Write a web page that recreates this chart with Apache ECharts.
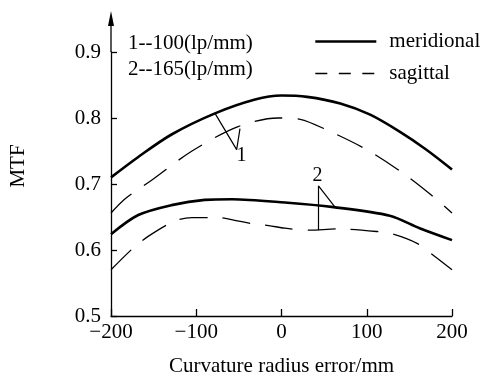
<!DOCTYPE html>
<html>
<head>
<meta charset="utf-8">
<script src="https://cdn.jsdelivr.net/npm/echarts@6/dist/echarts.min.js"></script>
<style>
html,body{margin:0;padding:0;background:#fff;}
#c{width:494px;height:377px;}
</style>
</head>
<body>
<div id="c"></div>
<script>
// ---- data ----
const xTicks = [-200, -100, 0, 100, 200];
const yTicks = [0.5, 0.6, 0.7, 0.8, 0.9];

const merid1X = [-200, -168, -129, -78, -31, 0, 30, 69, 104, 139, 170, 200];
const merid1Y = [0.710, 0.741, 0.775, 0.807, 0.828, 0.834, 0.832, 0.822, 0.805, 0.779, 0.752, 0.722];

const sagit1X = [-200, -183, -152, -105, -51, -4, 22, 53, 100, 143, 176, 200];
const sagit1Y = [0.656, 0.678, 0.706, 0.750, 0.787, 0.800, 0.798, 0.782, 0.752, 0.716, 0.683, 0.656];

const merid2X = [-200, -168, -129, -90, -58, 4, 61, 127, 162, 200];
const merid2Y = [0.624, 0.653, 0.668, 0.676, 0.677, 0.672, 0.665, 0.652, 0.633, 0.615];

const sagit2X = [-200, -174, -156, -125, -105, -74, -55, -35, -15, 4, 33, 65, 112, 131, 159, 178, 200];
const sagit2Y = [0.570, 0.603, 0.621, 0.644, 0.649, 0.649, 0.645, 0.640, 0.637, 0.633, 0.630, 0.632, 0.628, 0.624, 0.610, 0.592, 0.570];

// leader lines for curve labels (data coordinates)
const leader1X = [-78, -52.6, -48.7];
const leader1Y = [0.807, 0.752, 0.784];
const leader2X = [62.8, 43.4, 43.4];
const leader2Y = [0.665, 0.697, 0.630];

const curveLabels = [
  { text: '1', x: -47, y: 0.743 },
  { text: '2', x: 42.2, y: 0.713 }
];
const noteLines = ['1--100(lp/mm)', '2--165(lp/mm)'];
const legendNames = ['meridional', 'sagittal'];

// ---- helpers ----
const zip = (xs, ys) => xs.map((x, i) => [x, ys[i]]);
const FONT = '"Liberation Serif", "Times New Roman", serif';

const chart = echarts.init(document.getElementById('c'), null, { renderer: 'canvas' });

function curve(name, xs, ys, solid) {
  return {
    name: name,
    type: 'line',
    data: zip(xs, ys),
    smooth: 0.3,
    symbol: 'none',
    silent: true,
    lineStyle: solid
      ? { color: '#000', width: 2.6, type: 'solid' }
      : { color: '#000', width: 1.3, type: [28, 15] },
    itemStyle: { color: '#000' },
    z: 3
  };
}
function leader(xs, ys) {
  return {
    type: 'line',
    data: zip(xs, ys),
    symbol: 'none',
    silent: true,
    lineStyle: { color: '#000', width: 1.2 },
    z: 4
  };
}

const option = {
  animation: false,
  backgroundColor: '#fff',
  textStyle: { fontFamily: FONT, color: '#000' },
  grid: { left: 111, right: 42, top: 52, bottom: 61, containLabel: false, outerBoundsMode: 'none' },
  xAxis: {
    type: 'value',
    min: -200, max: 200, interval: 100,
    name: 'Curvature radius error/mm',
    nameLocation: 'middle',
    nameGap: 40,
    nameTextStyle: { fontFamily: FONT, fontSize: 21, color: '#000' },
    axisLine: { onZero: false, lineStyle: { color: '#000', width: 1.3 } },
    axisTick: { inside: true, length: 7, lineStyle: { color: '#000', width: 1.3 } },
    axisLabel: {
      fontFamily: FONT, fontSize: 21, color: '#000', margin: 6,
      formatter: v => (v < 0 ? '\u2212' + Math.abs(v) : String(v))
    },
    splitLine: { show: false }
  },
  yAxis: {
    type: 'value',
    min: 0.5, max: 0.9, interval: 0.1,
    name: 'MTF',
    nameLocation: 'middle',
    nameGap: 82,
    nameRotate: 90,
    nameTextStyle: { fontFamily: FONT, fontSize: 21, color: '#000', padding: [0, 0, 0, 36] },
    axisLine: { onZero: false, lineStyle: { color: '#000', width: 1.3 } },
    axisTick: { inside: true, length: 6, lineStyle: { color: '#000', width: 1.3 } },
    axisLabel: {
      fontFamily: FONT, fontSize: 21, color: '#000', margin: 10,
      formatter: v => v.toFixed(1)
    },
    splitLine: { show: false }
  },
  legend: {
    orient: 'vertical',
    left: 314, top: 31,
    padding: 0,
    itemWidth: 61, itemHeight: 14, itemGap: 11,
    textStyle: { fontFamily: FONT, fontSize: 21, color: '#000', padding: [0, 0, 0, 8] },
    data: [
      { name: legendNames[0], lineStyle: { color: '#000', width: 2.6 }, itemStyle: { opacity: 0 } },
      { name: legendNames[1], lineStyle: { color: '#000', width: 1.3, type: [12, 11.5] }, itemStyle: { opacity: 0 } }
    ],
    selectedMode: false
  },
  series: [
    curve(legendNames[0], merid1X, merid1Y, true),
    curve(legendNames[1], sagit1X, sagit1Y, false),
    curve(legendNames[0], merid2X, merid2Y, true),
    curve(legendNames[1], sagit2X, sagit2Y, false),
    leader(leader1X, leader1Y),
    leader(leader2X, leader2Y)
  ]
};
chart.setOption(option);

// overlay graphics: axis arrow, notes, curve labels
const top0 = chart.convertToPixel({ gridIndex: 0 }, [-200, 0.9]);
const graphics = [
  {
    type: 'line',
    shape: { x1: top0[0], y1: top0[1], x2: top0[0], y2: 20 },
    style: { stroke: '#000', lineWidth: 1.3 },
    silent: true
  },
  {
    type: 'polygon',
    shape: { points: [[top0[0], 11], [top0[0] - 3, 26], [top0[0] + 3, 26]] },
    style: { fill: '#000' },
    silent: true
  }
];
noteLines.forEach((t, i) => {
  graphics.push({
    type: 'text',
    left: 128, top: 33 + i * 26,
    style: { text: t, font: '21px ' + FONT, fill: '#000' },
    silent: true
  });
});
curveLabels.forEach(l => {
  const p = chart.convertToPixel({ gridIndex: 0 }, [l.x, l.y]);
  graphics.push({
    type: 'text',
    x: p[0], y: p[1],
    style: { text: l.text, font: '20px ' + FONT, fill: '#000', align: 'center', verticalAlign: 'middle' },
    silent: true
  });
});
chart.setOption({ graphic: graphics });
</script>
</body>
</html>
